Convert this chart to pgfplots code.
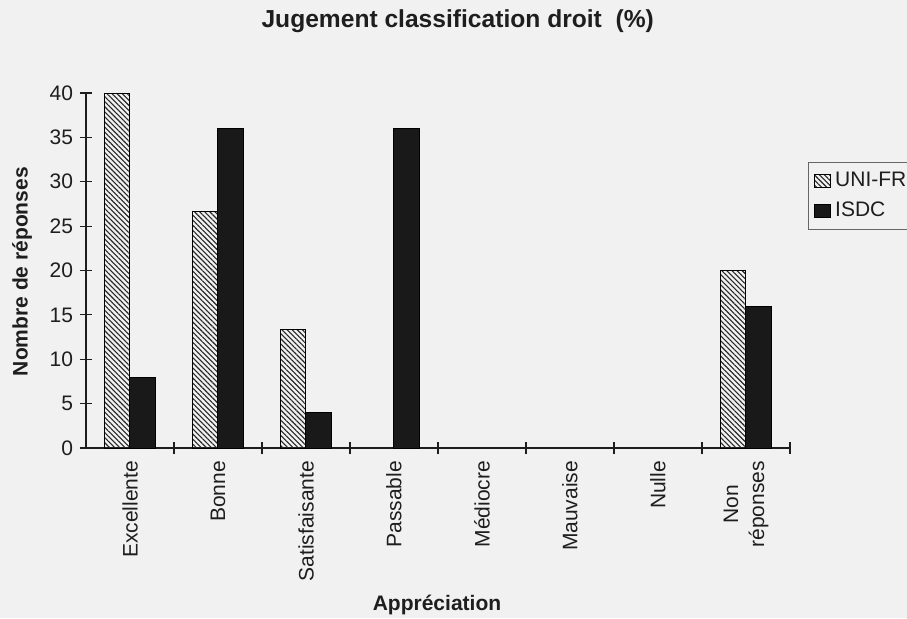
\documentclass[border=0pt]{standalone}
\usepackage{fontspec}
\setmainfont{Liberation Sans}
\usepackage{pgfplots}
\pgfplotsset{compat=1.18}
\usetikzlibrary{patterns.meta}
\definecolor{txt}{HTML}{1E1E1E}
\definecolor{paper}{HTML}{F1F1F1}
\begin{document}
\begin{tikzpicture}
\fill[paper] (0,0) rectangle (453.5pt,-309pt);
\begin{axis}[
  at={(43pt,-224pt)}, anchor=south west,
  scale only axis, width=352pt, height=177.5pt,
  xmin=0, xmax=8, ymin=0, ymax=40,
  axis lines=left,
  axis line style={-, txt, line width=0.6pt},
  every tick/.style={txt, line width=0.6pt},
  tick align=center,
  major tick length=6pt, minor tick length=6pt,
  ytick={0,5,...,40},
  xtick={0.5,1.5,...,7.5},
  xticklabels={Excellente,Bonne,Satisfaisante,Passable,Médiocre,Mauvaise,Nulle,{Non\\réponses}},
  minor xtick={1,2,...,8},
  major x tick style={draw=none},
  x tick label style={rotate=90, anchor=east, align=center, font=\fontsize{10.5}{13}\selectfont, text=txt},
  y tick label style={font=\fontsize{10.5}{13}\selectfont, text=txt},
  /pgf/number format/assume math mode=true,
  title={Jugement classification droit~~(\%)},
  title style={at={(0.528,1.168)}, anchor=center, font=\fontsize{12.3}{14}\selectfont\bfseries, text=txt},
  xlabel={Appréciation},
  xlabel style={at={(0.4986,-0.442)}, anchor=center, font=\fontsize{10.5}{13}\selectfont\bfseries, text=txt},
  ylabel={Nombre de réponses},
  ylabel style={at={(-0.0909,0.497)}, anchor=center, font=\fontsize{10.5}{13}\selectfont\bfseries, text=txt},
  legend style={at={(1.0256,0.8056)}, anchor=north west, draw=black!60, fill=paper,
    font=\fontsize{10.5}{13}\selectfont, text=txt, row sep=2pt, inner sep=3pt},
  legend cell align=left,
  legend image code/.code={\draw[#1, draw=black, line width=0.4pt] (0pt,-3.2pt) rectangle (8pt,3.2pt);},
]
\addplot[ybar, bar width=12.6pt, bar shift=-6.3pt, draw=black, line width=0.5pt,
  pattern={Lines[angle=-45, distance=1.8pt, line width=0.55pt]}, pattern color=black!85]
  coordinates {(0.5,40) (1.5,26.7) (2.5,13.3) (7.5,20)};
\addlegendentry{UNI-FR}
\addplot[ybar, bar width=12.6pt, bar shift=6.3pt, draw=black, line width=0.5pt, fill=black!90]
  coordinates {(0.5,8) (1.5,36) (2.5,4) (3.5,36) (7.5,16)};
\addlegendentry{ISDC}
\end{axis}
\pgfresetboundingbox
\useasboundingbox (0,0) rectangle (453.5pt,-309pt);
\end{tikzpicture}
\end{document}
